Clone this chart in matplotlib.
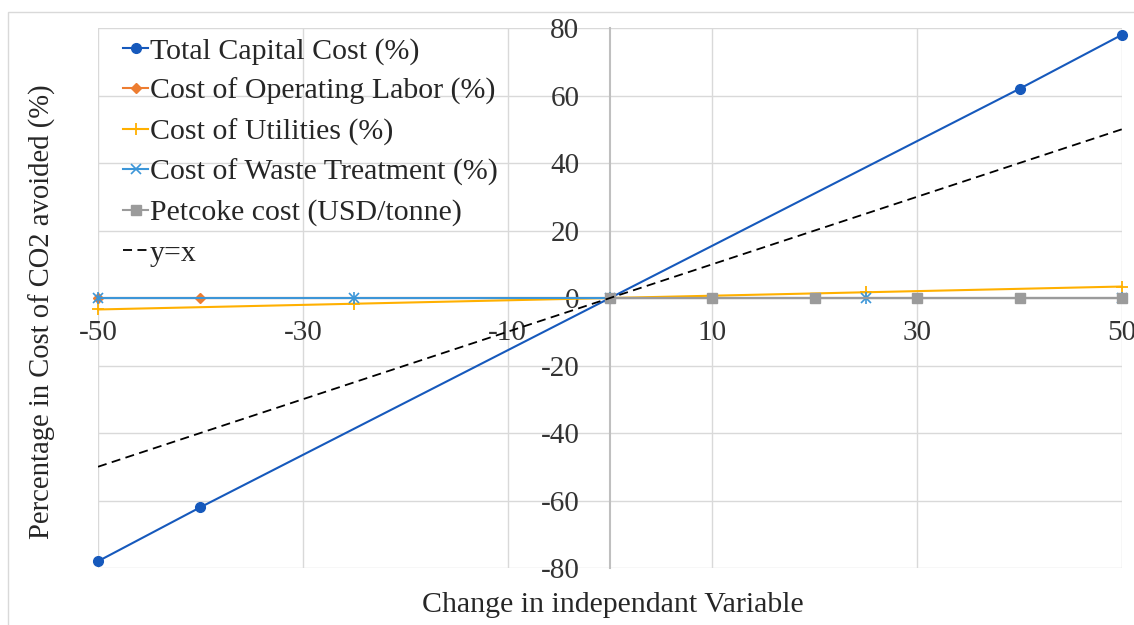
import matplotlib
matplotlib.use("Agg")
import matplotlib.pyplot as plt
from matplotlib.patches import Rectangle

plt.rcParams["font.family"] = ["Liberation Serif", "DejaVu Serif"]
plt.rcParams["axes.unicode_minus"] = False

# sensitivity data: change in variable (%) vs change in cost of CO2 avoided (%)
capital_x = [-50, -40, 0, 40, 50]
capital_y = [-78, -62, 0, 62, 78]

labor_x = [-50, -40, 0, 40, 50]
labor_y = [0, 0, 0, 0, 0]

utilities_x = [-50, -25, 0, 25, 50]
utilities_y = [-3.4, -1.7, 0, 1.7, 3.4]

waste_x = [-50, -25, 0, 25, 50]
waste_y = [0, 0, 0, 0, 0]

petcoke_x = [0, 10, 20, 30, 40, 50]
petcoke_y = [0, 0, 0, 0, 0, 0]

ref_x = [-50, 50]
ref_y = [-50, 50]

x_ticks = [-50, -30, -10, 10, 30, 50]
y_ticks = [-80, -60, -40, -20, 0, 20, 40, 60, 80]

fig = plt.figure(figsize=(11.34, 6.25), dpi=100)
ax = fig.add_axes([98 / 1134, 1 - 568 / 625, 1024 / 1134, 540 / 625])

ax.plot(capital_x, capital_y, color="#1659BC", lw=1.5, marker="o", ms=7,
        label="Total Capital Cost (%)", clip_on=False, zorder=3)
ax.plot(labor_x, labor_y, color="#ED7D31", lw=1.5, marker="D", ms=5,
        label="Cost of Operating Labor (%)", clip_on=False, zorder=3)
ax.plot(utilities_x, utilities_y, color="#FFB000", lw=1.5, marker="+", ms=9,
        mew=1.3, label="Cost of Utilities (%)", clip_on=False, zorder=3)
ax.plot(waste_x, waste_y, color="#3C96D8", lw=1.5, marker="x", ms=7, mew=1.2,
        label="Cost of Waste Treatment (%)", clip_on=False, zorder=3)
ax.plot(waste_x, waste_y, color="#3C96D8", lw=0, marker="|", ms=9, mew=1.2,
        clip_on=False, zorder=3)
ax.plot(petcoke_x, petcoke_y, color="#9B9B9B", lw=1.5, marker="s", ms=7,
        label="Petcoke cost (USD/tonne)", clip_on=False, zorder=3)
ax.plot(ref_x, ref_y, color="black", lw=1.3, ls=(0, (5, 3)), label="y=x",
        zorder=4)

ax.set_xlim(-50, 50)
ax.set_ylim(-80, 80)
ax.set_xticks(x_ticks)
ax.set_yticks(y_ticks)
ax.tick_params(length=0, labelsize=21, colors="#333333")
ax.tick_params(axis="x", pad=16)
ax.tick_params(axis="y", pad=22)
ax.grid(color="#D9D9D9", lw=1)

for side in ["top", "right"]:
    ax.spines[side].set_visible(False)
ax.spines["left"].set_position(("data", 0))
ax.spines["bottom"].set_position(("data", 0))
for side in ["left", "bottom"]:
    ax.spines[side].set_color("#BFBFBF")
    ax.spines[side].set_linewidth(1.5)
ax.set_axisbelow(True)
for lbl in ax.get_xticklabels() + ax.get_yticklabels():
    lbl.set_zorder(5)

leg = ax.legend(loc="upper left", bbox_to_anchor=(0.004, 1.021), frameon=False,
                fontsize=21.5, handlelength=0.85, handletextpad=0.05,
                labelspacing=0.44, borderaxespad=0.3)
for t in leg.get_texts():
    t.set_color("#262626")

fig.text(42 / 1134, 1 - 312 / 625, "Percentage in Cost of CO2 avoided (%)",
         rotation=90, ha="center", va="center", fontsize=20.6, color="#262626")
fig.text(613 / 1134, 1 - 605 / 625, "Change in independant Variable",
         ha="center", va="center", fontsize=21.5, color="#262626")

# outer chart-area border
fig.patches.append(Rectangle((8 / 1134, -0.02), 1.0, 1.02 - 12 / 625,
                             transform=fig.transFigure, fill=False,
                             edgecolor="#D9D9D9", lw=1))

fig.savefig("out.png", dpi=100)
